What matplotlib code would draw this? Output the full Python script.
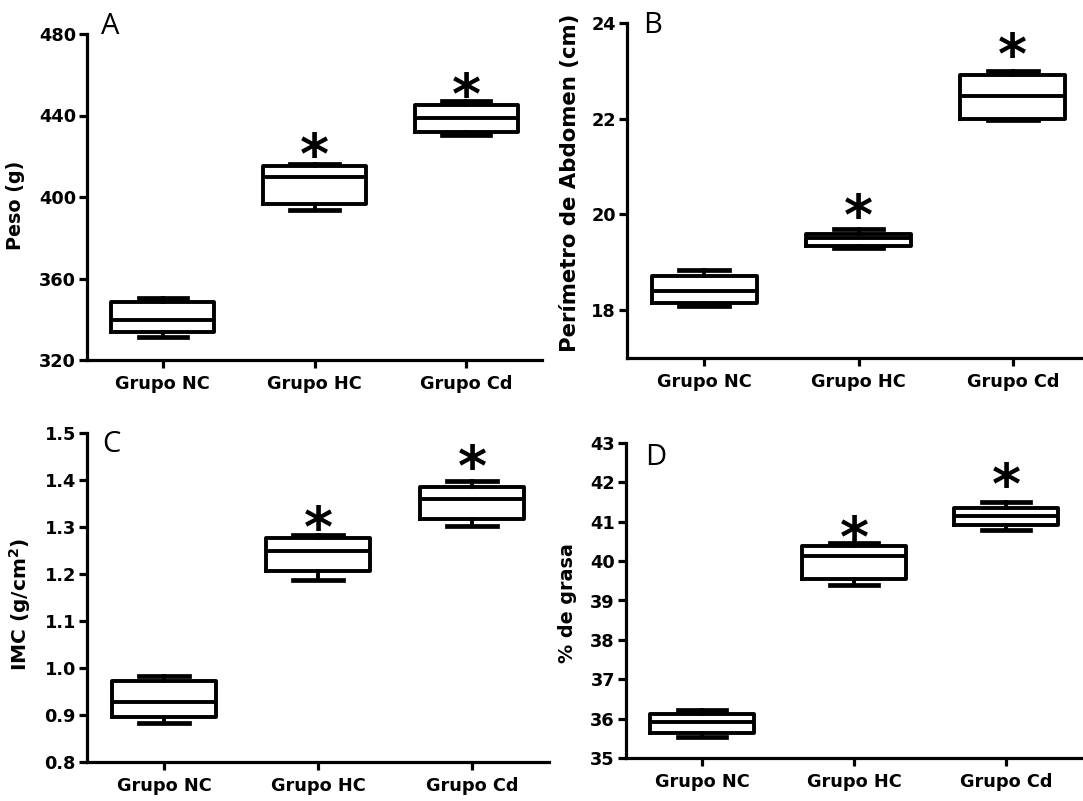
import matplotlib
matplotlib.use("Agg")
import matplotlib.pyplot as plt

# datos (min, q1, mediana, q3, max)
grupos = ["Grupo NC", "Grupo HC", "Grupo Cd"]

peso_min = [331.5, 393.7, 430.5]
peso_q1 = [333.6, 396.7, 432.1]
peso_med = [339.8, 409.9, 439.0]
peso_q3 = [348.7, 415.2, 445.3]
peso_max = [350.5, 416.3, 447.3]
peso_ast = [None, 424.7, 454.4]

abd_min = [18.08, 19.29, 21.97]
abd_q1 = [18.14, 19.34, 22.00]
abd_med = [18.41, 19.50, 22.48]
abd_q3 = [18.72, 19.60, 22.91]
abd_max = [18.84, 19.70, 23.00]
abd_ast = [None, 20.14, 23.52]

imc_min = [0.882, 1.188, 1.302]
imc_q1 = [0.896, 1.206, 1.316]
imc_med = [0.928, 1.249, 1.359]
imc_q3 = [0.972, 1.276, 1.386]
imc_max = [0.983, 1.282, 1.398]
imc_ast = [None, 1.316, 1.446]

grasa_min = [35.53, 39.40, 40.80]
grasa_q1 = [35.63, 39.54, 40.92]
grasa_med = [35.92, 40.12, 41.15]
grasa_q3 = [36.11, 40.38, 41.34]
grasa_max = [36.21, 40.46, 41.49]
grasa_ast = [None, 40.80, 42.16]

W, H = 1083, 801
fig = plt.figure(figsize=(W / 100, H / 100), dpi=100)


def px_axes(x0, x1, ytop, ybot):
    return fig.add_axes([x0 / W, (H - ybot) / H, (x1 - x0) / W, (ybot - ytop) / H])


def panel(ax, mins, q1s, meds, q3s, maxs, ast, ylim, yticks, ylabel, lsize, lab_x, lab_y, letra, letra_xy):
    stats = []
    for i in range(3):
        stats.append(dict(whislo=mins[i], q1=q1s[i], med=meds[i], q3=q3s[i],
                          whishi=maxs[i], fliers=[]))
    lw = 2.8
    ax.bxp(stats, positions=[1, 2, 3], widths=0.68, showfliers=False,
           boxprops=dict(color="black", linewidth=lw),
           medianprops=dict(color="black", linewidth=lw),
           whiskerprops=dict(color="black", linewidth=lw),
           capprops=dict(color="black", linewidth=lw + 0.6),
           capwidths=0.32)
    fs = 40
    for i, y in enumerate(ast):
        if y is not None:
            ax.annotate("*", xy=(i + 1, y), xytext=(0, -0.48 * fs), textcoords="offset points",
                        ha="center", va="baseline", fontsize=fs, fontweight="bold")
    ax.set_xlim(0.5, 3.5)
    ax.set_ylim(*ylim)
    ax.set_yticks(yticks)
    ax.set_xticks([1, 2, 3])
    ax.set_xticklabels(grupos)
    for s in ["top", "right"]:
        ax.spines[s].set_visible(False)
    for s in ["left", "bottom"]:
        ax.spines[s].set_linewidth(2.3)
    ax.tick_params(axis="both", direction="out", length=6, width=2.3, labelsize=12.8)
    ax.tick_params(axis="y", pad=2)
    ax.tick_params(axis="x", pad=5)
    for t in ax.get_xticklabels() + ax.get_yticklabels():
        t.set_fontweight("bold")
    ax.set_ylabel(ylabel, fontsize=lsize, fontweight="bold")
    pos = ax.get_position()
    ax.yaxis.set_label_coords((lab_x - pos.x0 * W) / (pos.width * W),
                              ((H - lab_y) - pos.y0 * H) / (pos.height * H))
    fig.text(letra_xy[0] / W, (H - letra_xy[1]) / H, letra, fontsize=21,
             family="Open Sans", ha="left", va="baseline")


axA = px_axes(87, 542, 34, 360)
panel(axA, peso_min, peso_q1, peso_med, peso_q3, peso_max, peso_ast,
      (320, 480), [320, 360, 400, 440, 480], "Peso (g)", 13.8, 25, 205, "A", (101, 34))

axB = px_axes(627, 1090, 23, 358)
panel(axB, abd_min, abd_q1, abd_med, abd_q3, abd_max, abd_ast,
      (17, 24), [18, 20, 22, 24], "Perímetro de Abdomen (cm)", 15.3, 580, 183, "B", (643, 33))

axC = px_axes(87, 549, 433, 762)
panel(axC, imc_min, imc_q1, imc_med, imc_q3, imc_max, imc_ast,
      (0.8, 1.5), [0.8, 0.9, 1.0, 1.1, 1.2, 1.3, 1.4, 1.5], "IMC (g/cm$^{\\mathbf{2}}$)", 14.5, 33, 604, "C", (102, 452))
axC.yaxis.set_major_formatter(matplotlib.ticker.FormatStrFormatter("%.1f"))
for t in axC.get_yticklabels():
    t.set_fontweight("bold")

axD = px_axes(626, 1082, 443, 758)
panel(axD, grasa_min, grasa_q1, grasa_med, grasa_q3, grasa_max, grasa_ast,
      (35, 43), list(range(35, 44)), "% de grasa", 13.8, 577, 603, "D", (645, 465))

fig.savefig("out.png", dpi=100)
